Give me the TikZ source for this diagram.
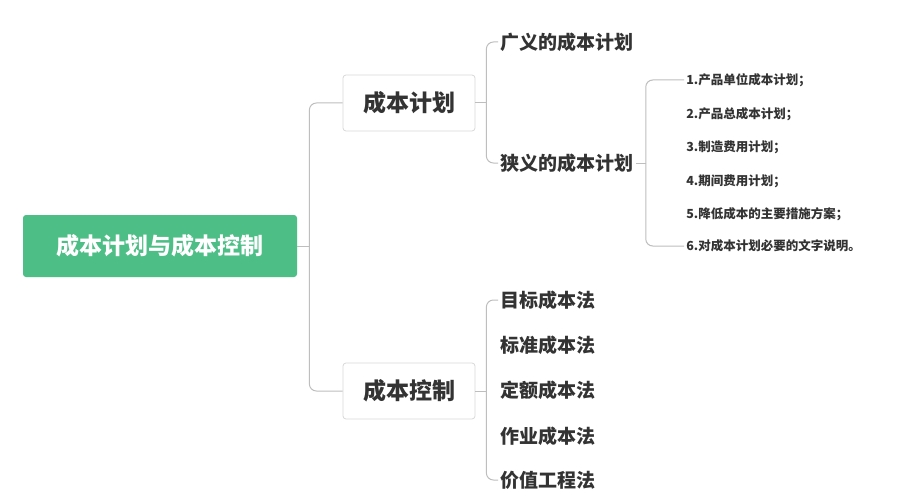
\documentclass[tikz,border=0pt]{standalone}
\usepackage{fontspec}
\newfontfamily\cjk{Noto Sans CJK SC}
\usetikzlibrary{positioning}
\definecolor{rootgreen}{RGB}{76,190,134}
\definecolor{txtgray}{RGB}{51,51,51}
\definecolor{linegray}{RGB}{190,190,190}
\tikzset{
    every picture/.style={line width=0.75pt},
    root-box/.style={
        fill=rootgreen,
        text=white,
        rounded corners=3pt,
        minimum width=274pt,
        minimum height=62pt,
        font=\cjk\bfseries\fontsize{23}{26}\selectfont,
    },
    topic-box/.style={
        draw=linegray!60,
        fill=white,
        text=txtgray,
        rounded corners=3pt,
        minimum width=132pt,
        minimum height=56pt,
        font=\cjk\bfseries\fontsize{23}{26}\selectfont,
    },
    sub-text/.style={
        anchor=west,
        inner sep=2pt,
        text=txtgray,
        font=\cjk\bfseries\fontsize{19}{22}\selectfont,
    },
    item-text/.style={
        anchor=west,
        inner sep=2pt,
        text=txtgray,
        font=\cjk\bfseries\fontsize{12.5}{15}\selectfont,
    },
    conn/.style={
        draw=linegray,
        line width=1pt,
        rounded corners=7pt,
    }
}
\begin{document}
\begin{tikzpicture}[x=1pt,y=-1pt]
\useasboundingbox[fill=white] (0,0) rectangle (909,500);

% root and topics
\node[root-box] (root) at (160,246) {成本计划与成本控制};
\node[topic-box] (plan) at (409,103) {成本计划};
\node[topic-box] (ctrl) at (409,391) {成本控制};

% cost plan branch
\node[sub-text] (broad) at (498,42) {广义的成本计划};
\node[sub-text] (narrow) at (498,163) {狭义的成本计划};

% narrow plan items
\foreach \name/\y/\txt in {i1/80/1.产品单位成本计划；, i2/114/2.产品总成本计划；, i3/147/3.制造费用计划；, i4/181/4.期间费用计划；, i5/214/5.降低成本的主要措施方案；, i6/246/6.对成本计划必要的文字说明。}
    \node[item-text] (\name) at (684,\y) {\txt};

% cost control methods
\foreach \name/\y/\txt in {m1/300/目标成本法, m2/345/标准成本法, m3/390/定额成本法, m4/436/作业成本法, m5/480/价值工程法}
    \node[sub-text] (\name) at (498,\y) {\txt};

% connectors
\draw[conn] (root.east) ++(12,0) coordinate (j0);
\draw[conn] (root.east) -- (j0);
\draw[conn] (j0) |- (plan.west);
\draw[conn] (j0) |- (ctrl.west);

\coordinate (j1) at ([xshift=11pt]plan.east);
\draw[conn] (plan.east) -- (j1);
\draw[conn] (j1) |- (broad.west);
\draw[conn] (j1) |- (narrow.west);

\coordinate (j2) at ([xshift=10pt]narrow.east);
\draw[conn] (narrow.east) -- (j2);
\draw[conn] (j2) |- (i1.west);
\draw[conn] (j2) |- (i6.west);

\coordinate (j3) at ([xshift=11pt]ctrl.east);
\draw[conn] (ctrl.east) -- (j3);
\draw[conn] (j3) |- (m1.west);
\draw[conn] (j3) |- (m5.west);
\end{tikzpicture}
\end{document}
